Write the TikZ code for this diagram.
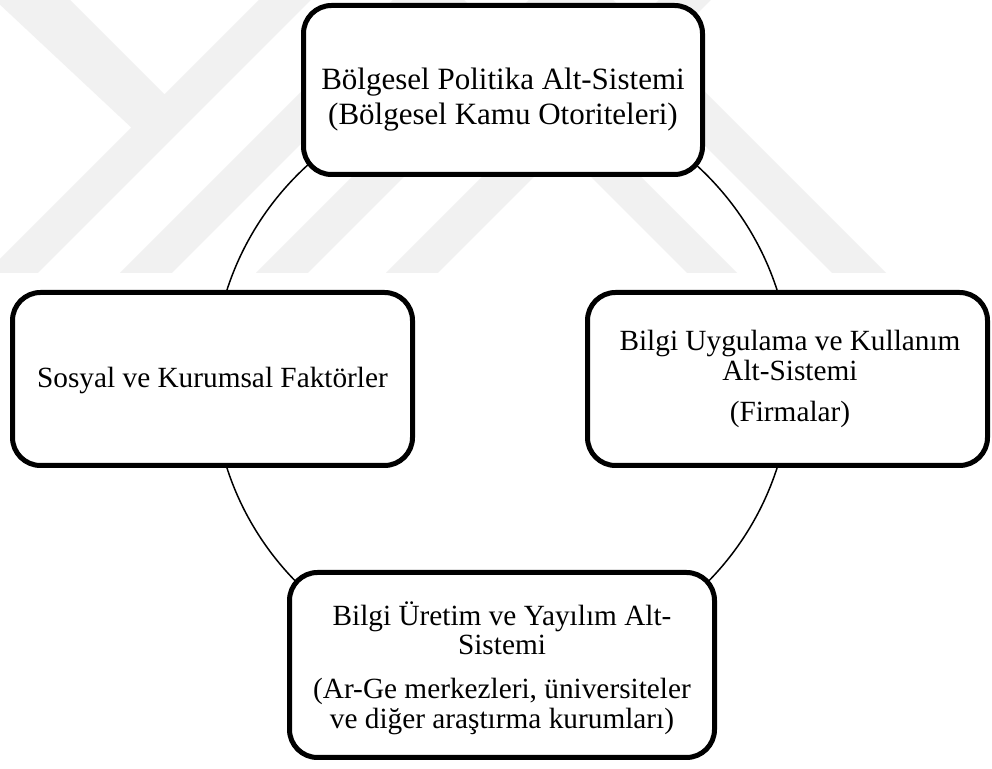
\documentclass[tikz,border=0pt]{standalone}
\usepackage{fontspec}
\setmainfont{Liberation Serif}
\begin{document}
\begin{tikzpicture}[x=0.5pt,y=-0.5pt,
  wm/.style={fill={rgb,255:red,241;green,241;blue,241}},
  sysbox/.style={draw=black,line width=2.5pt,fill=white,rounded corners=14pt,inner sep=0pt},
  txt/.style={align=center,inner sep=0pt,font=\fontsize{14.65}{14.8}\selectfont},
  ring/.style={draw=black,line width=0.75pt}]
\useasboundingbox (0,0) rectangle (992,769);
\fill[white] (0,0) rectangle (992,769);
% watermark
\begin{scope}
\clip (0,0) rectangle (992,273);
\fill[wm] (-14,273) -- (38,273) -- (311,0) -- (259,0) -- cycle;
\fill[wm] (-5,0) -- (70,0) -- (190,120) -- (150,145) -- cycle;
\fill[wm] (120,273) -- (172,273) -- (445,0) -- (393,0) -- cycle;
\fill[wm] (256,273) -- (308,273) -- (581,0) -- (529,0) -- cycle;
\fill[wm] (386,273) -- (438,273) -- (711,0) -- (659,0) -- cycle;
\fill[wm] (687,273) -- (737,273) -- (464,0) -- (414,0) -- cycle;
\fill[wm] (832,273) -- (886,273) -- (613,0) -- (559,0) -- cycle;
\end{scope}
% ring
\coordinate (c) at (502,379);
\draw[ring] (c) circle[radius=289];
% boxes
\node[sysbox,minimum width=199.5pt,minimum height=84.5pt] (top) at (503,90) {};
\node[sysbox,minimum width=200pt,minimum height=86.5pt] (left) at (212.5,379) {};
\node[sysbox,minimum width=200pt,minimum height=86.5pt] (right) at (787.5,379) {};
\node[sysbox,minimum width=212.5pt,minimum height=92.5pt] (bottom) at (502,665) {};
% texts
\node[txt,font=\fontsize{15.5}{17.5}\selectfont] (toptext) at (503,100) {Bölgesel Politika Alt-Sistemi\\(Bölgesel Kamu Otoriteleri)};
\node[txt] (lefttext) at (212.5,381) {Sosyal ve Kurumsal Faktörler};
\node[txt] (righttext) at (790,379) {Bilgi Uygulama ve Kullanım\\Alt-Sistemi\\[6pt](Firmalar)};
\node[txt] (bottomtext) at (502,668) {Bilgi Üretim ve Yayılım Alt-\\Sistemi\\[7pt](Ar-Ge merkezleri, üniversiteler\\ve diğer araştırma kurumları)};
\end{tikzpicture}
\end{document}
